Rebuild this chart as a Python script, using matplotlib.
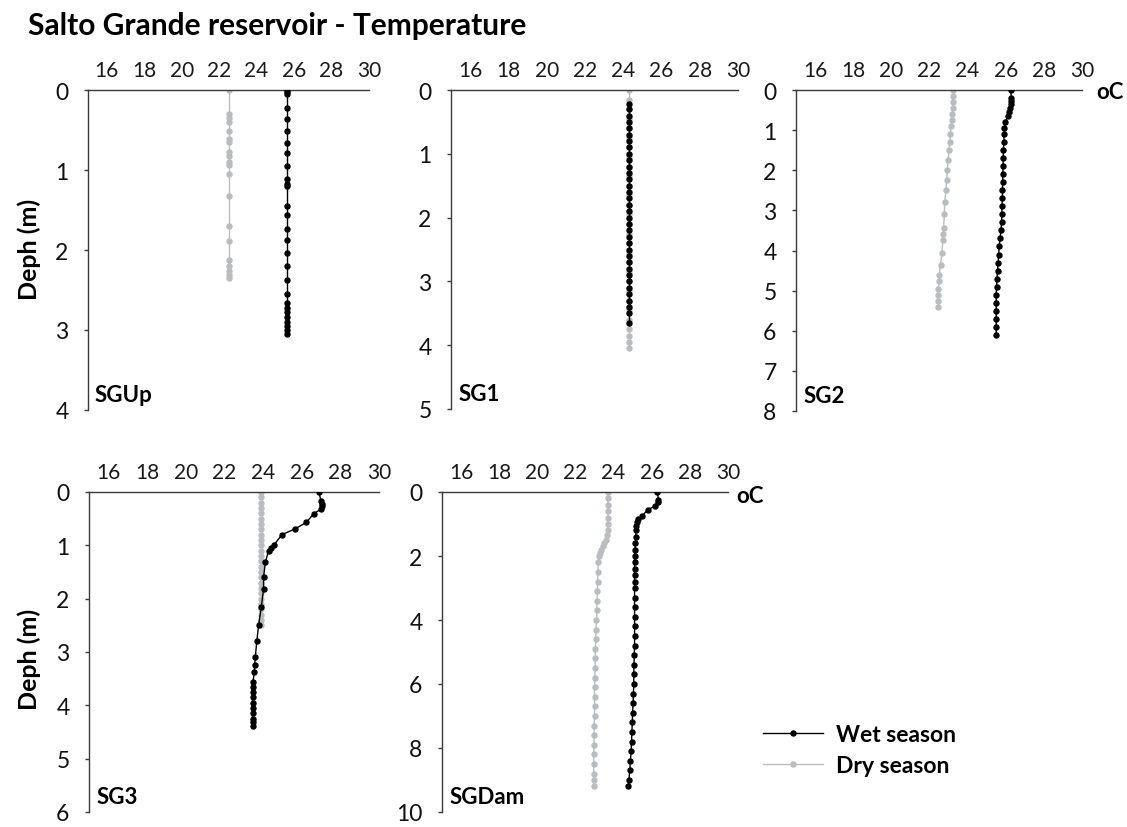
import numpy as np
import matplotlib.pyplot as plt

plt.rcParams['font.family'] = ['Lato', 'DejaVu Sans']

W, H = 1127, 828

# ---- data (depth in m, temperature in oC) ----
sgup_wet_depth = [0, 0.03, 0.05, 0.22, 0.36, 0.51, 0.66, 0.79, 0.95, 1.11, 1.17, 1.2,
                  1.45, 1.56, 1.74, 1.88, 2.04, 2.2, 2.38, 2.55, 2.66, 2.72, 2.78,
                  2.84, 2.9, 2.95, 3.0, 3.05]
sgup_wet_temp = [25.6, 25.6, 25.6, 25.6, 25.6, 25.6, 25.6, 25.6, 25.6, 25.6, 25.6, 25.6,
                 25.6, 25.6, 25.6, 25.6, 25.6, 25.6, 25.6, 25.6, 25.6, 25.6, 25.6,
                 25.6, 25.6, 25.6, 25.6, 25.6]
sgup_dry_depth = [0, 0.3, 0.35, 0.4, 0.51, 0.61, 0.65, 0.78, 0.82, 0.9, 0.94, 1.05,
                  1.33, 1.7, 1.89, 2.13, 2.2, 2.26, 2.31, 2.35]
sgup_dry_temp = [22.5, 22.5, 22.5, 22.5, 22.5, 22.5, 22.5, 22.5, 22.5, 22.5, 22.5, 22.5,
                 22.5, 22.5, 22.5, 22.5, 22.5, 22.5, 22.5, 22.5]

sg1_wet_depth = [0.22, 0.3, 0.4, 0.5, 0.6, 0.7, 0.8, 0.9, 1.0, 1.1, 1.2, 1.3, 1.4, 1.5,
                 1.6, 1.7, 1.8, 1.9, 2.0, 2.1, 2.2, 2.3, 2.4, 2.5, 2.6, 2.7, 2.8, 2.9,
                 3.0, 3.1, 3.2, 3.3, 3.4, 3.5, 3.65]
sg1_wet_temp = [24.3, 24.3, 24.3, 24.3, 24.3, 24.3, 24.3, 24.3, 24.3, 24.3, 24.3, 24.3,
                24.3, 24.3, 24.3, 24.3, 24.3, 24.3, 24.3, 24.3, 24.3, 24.3, 24.3, 24.3,
                24.3, 24.3, 24.3, 24.3, 24.3, 24.3, 24.3, 24.3, 24.3, 24.3, 24.3]
sg1_dry_depth = [0, 0.15, 0.3, 0.45, 0.6, 0.75, 0.9, 1.05, 1.2, 1.35, 1.5, 1.65, 1.8,
                 1.95, 2.1, 2.25, 2.4, 2.55, 2.7, 2.85, 3.0, 3.15, 3.3, 3.45, 3.6,
                 3.75, 3.85, 3.95, 4.05]
sg1_dry_temp = [24.3, 24.3, 24.3, 24.3, 24.3, 24.3, 24.3, 24.3, 24.3, 24.3, 24.3, 24.3,
                24.3, 24.3, 24.3, 24.3, 24.3, 24.3, 24.3, 24.3, 24.3, 24.3, 24.3, 24.3,
                24.3, 24.3, 24.3, 24.3, 24.3]

sg2_wet_depth = [0, 0.2, 0.27, 0.35, 0.45, 0.55, 0.65, 0.8, 0.95, 1.1, 1.3, 1.5, 1.7,
                 1.9, 2.1, 2.3, 2.5, 2.7, 2.9, 3.1, 3.3, 3.5, 3.7, 3.9, 4.1, 4.3, 4.5,
                 4.7, 4.9, 5.1, 5.3, 5.5, 5.7, 5.9, 6.1]
sg2_wet_temp = [26.25, 26.3, 26.3, 26.25, 26.2, 26.15, 26.1, 25.98, 25.93, 25.92, 25.9,
                25.88, 25.87, 25.86, 25.85, 25.84, 25.83, 25.82, 25.8, 25.8, 25.78,
                25.75, 25.7, 25.66, 25.63, 25.6, 25.57, 25.54, 25.52, 25.5, 25.5, 25.5,
                25.5, 25.5, 25.5]
sg2_dry_depth = [0, 0.15, 0.3, 0.45, 0.6, 0.75, 0.9, 1.1, 1.3, 1.5, 1.75, 2.0, 2.25,
                 2.5, 2.8, 3.1, 3.45, 3.6, 3.75, 4.05, 4.35, 4.6, 4.75, 4.95, 5.1,
                 5.25, 5.4]
sg2_dry_temp = [23.26, 23.25, 23.24, 23.22, 23.2, 23.17, 23.13, 23.1, 23.07, 23.03,
                22.98, 22.94, 22.9, 22.86, 22.8, 22.78, 22.74, 22.72, 22.7, 22.66,
                22.58, 22.52, 22.5, 22.47, 22.45, 22.45, 22.45]

sg3_wet_depth = [0, 0.16, 0.22, 0.27, 0.32, 0.41, 0.57, 0.69, 0.8, 1.0, 1.05, 1.1,
                 1.32, 1.6, 1.82, 2.16, 2.5, 2.8, 3.1, 3.25, 3.38, 3.56, 3.65, 3.75,
                 3.85, 3.95, 4.05, 4.15, 4.25, 4.32, 4.38]
sg3_wet_temp = [26.88, 27.0, 27.04, 27.04, 27.0, 26.62, 26.24, 25.67, 24.98, 24.55,
                24.4, 24.29, 24.12, 24.03, 24.03, 23.91, 23.77, 23.68, 23.6, 23.57,
                23.55, 23.48, 23.46, 23.46, 23.46, 23.46, 23.46, 23.46, 23.46, 23.46,
                23.46]
sg3_dry_depth = [0, 0.1, 0.2, 0.3, 0.4, 0.5, 0.6, 0.7, 0.8, 0.9, 1.0, 1.1, 1.2, 1.3,
                 1.4, 1.5, 1.6, 1.7, 1.8, 1.9, 2.0, 2.1, 2.2, 2.3, 2.4, 2.5]
sg3_dry_temp = [23.9, 23.9, 23.9, 23.9, 23.9, 23.9, 23.9, 23.9, 23.9, 23.9, 23.9,
                23.9, 23.9, 23.9, 23.9, 23.9, 23.9, 23.9, 23.9, 23.9, 23.9, 23.9,
                23.9, 23.9, 23.9, 23.9]

sgdam_wet_depth = [0, 0.25, 0.3, 0.45, 0.55, 0.75, 0.85, 0.95, 1.05, 1.2, 1.4, 1.6,
                   1.8, 2.0, 2.2, 2.4, 2.6, 2.8, 3.0, 3.3, 3.6, 3.9, 4.2, 4.5, 4.8,
                   5.1, 5.4, 5.7, 6.0, 6.3, 6.6, 6.9, 7.2, 7.5, 7.8, 8.1, 8.4, 8.7,
                   9.0, 9.2]
sgdam_wet_temp = [26.3, 26.35, 26.35, 26.15, 25.79, 25.5, 25.3, 25.22, 25.2, 25.18,
                  25.16, 25.14, 25.12, 25.1, 25.1, 25.1, 25.1, 25.1, 25.1, 25.1,
                  25.1, 25.1, 25.1, 25.1, 25.1, 25.08, 25.07, 25.06, 25.06, 25.04,
                  25.02, 25.0, 24.98, 24.96, 24.94, 24.92, 24.88, 24.85, 24.8, 24.78]
sgdam_dry_depth = [0, 0.2, 0.4, 0.6, 0.8, 1.0, 1.2, 1.35, 1.5, 1.6, 1.7, 1.8, 1.9,
                   2.0, 2.2, 2.5, 2.8, 3.1, 3.4, 3.7, 4.0, 4.3, 4.6, 4.9, 5.2, 5.5,
                   5.8, 6.1, 6.4, 6.7, 7.0, 7.3, 7.6, 7.9, 8.2, 8.5, 8.8, 9.0, 9.2]
sgdam_dry_temp = [23.7, 23.7, 23.7, 23.7, 23.7, 23.7, 23.7, 23.68, 23.6, 23.5, 23.42,
                  23.35, 23.28, 23.22, 23.2, 23.18, 23.16, 23.15, 23.13, 23.12, 23.1,
                  23.08, 23.06, 23.05, 23.04, 23.03, 23.02, 23.0, 23.0, 23.0, 23.0,
                  22.98, 22.98, 22.97, 22.96, 22.96, 22.95, 22.95, 22.95]

stations = ['SGUp', 'SG1', 'SG2', 'SG3', 'SGDam']
depth_max = [4, 5, 8, 6, 10]
depth_step = [1, 1, 1, 1, 2]
wet = [(sgup_wet_temp, sgup_wet_depth), (sg1_wet_temp, sg1_wet_depth),
       (sg2_wet_temp, sg2_wet_depth), (sg3_wet_temp, sg3_wet_depth),
       (sgdam_wet_temp, sgdam_wet_depth)]
dry = [(sgup_dry_temp, sgup_dry_depth), (sg1_dry_temp, sg1_dry_depth),
       (sg2_dry_temp, sg2_dry_depth), (sg3_dry_temp, sg3_dry_depth),
       (sgdam_dry_temp, sgdam_dry_depth)]
temp_ticks = [16, 18, 20, 22, 24, 26, 28, 30]

# panel boxes in pixels: left, right, top, bottom
boxes = [(88, 369, 91, 411), (451, 738, 91, 410), (796, 1082, 91, 412),
         (89, 379, 493, 813), (442, 728, 493, 813)]

axis_col = '#3a3a3a'
dry_col = '#b9bdbf'

fig = plt.figure(figsize=(W / 100, H / 100), dpi=100)

axes = []
for i, name in enumerate(stations):
    l, r, t, b = boxes[i]
    ax = fig.add_axes([l / W, 1 - b / H, (r - l) / W, (b - t) / H])
    dt, dd = dry[i]
    wt, wd = wet[i]
    ax.plot(dt, dd, color=dry_col, marker='o', markersize=3.6, lw=1,
            label='Dry season', zorder=2)
    ax.plot(wt, wd, color='black', marker='o', markersize=3.6, lw=1,
            label='Wet season', zorder=3)
    ax.set_xlim(15, 30)
    ax.set_ylim(depth_max[i], 0)
    ax.set_xticks(temp_ticks)
    ax.set_yticks(np.arange(0, depth_max[i] + 1, depth_step[i]))
    ax.xaxis.tick_top()
    ax.tick_params(axis='x', length=0, pad=7, labelsize=15, colors='#1a1a1a')
    ax.tick_params(axis='y', length=3, width=1, direction='out', pad=11,
                   labelsize=16.5, colors=axis_col, labelcolor='#111111')
    for s in ['right', 'bottom']:
        ax.spines[s].set_visible(False)
    for s in ['left', 'top']:
        ax.spines[s].set_color(axis_col)
        ax.spines[s].set_linewidth(1)
    ax.patch.set_alpha(0)
    ax.text(0.025, 0.015, name, transform=ax.transAxes, fontsize=16,
            fontweight='bold', ha='left', va='bottom')
    axes.append(ax)

# temperature unit at the end of the top axis
axes[2].text(1.05, 0.995, 'oC', transform=axes[2].transAxes, fontsize=16,
             fontweight='bold', ha='left', va='center')
axes[4].text(1.03, 0.99, 'oC', transform=axes[4].transAxes, fontsize=16,
             fontweight='bold', ha='left', va='center')

fig.text(29 / W, 1 - 249 / H, 'Deph (m)', rotation=90, fontsize=18,
         fontweight='bold', ha='center', va='center')
fig.text(29 / W, 1 - 659 / H, 'Deph (m)', rotation=90, fontsize=18,
         fontweight='bold', ha='center', va='center')

fig.text(28 / W, 1 - 35 / H, 'Salto Grande reservoir - Temperature', fontsize=21.5,
         fontweight='bold', ha='left', va='baseline')

h, lab = axes[4].get_legend_handles_labels()
leg = fig.legend(h[::-1], lab[::-1], loc='center left',
                 bbox_to_anchor=(763 / W, 1 - 751 / H), frameon=False,
                 fontsize=16.5, handlelength=2.6, handletextpad=0.6,
                 labelspacing=0.45, borderpad=0, borderaxespad=0)
for t in leg.get_texts():
    t.set_fontweight('bold')

fig.savefig('out.png', dpi=100)
